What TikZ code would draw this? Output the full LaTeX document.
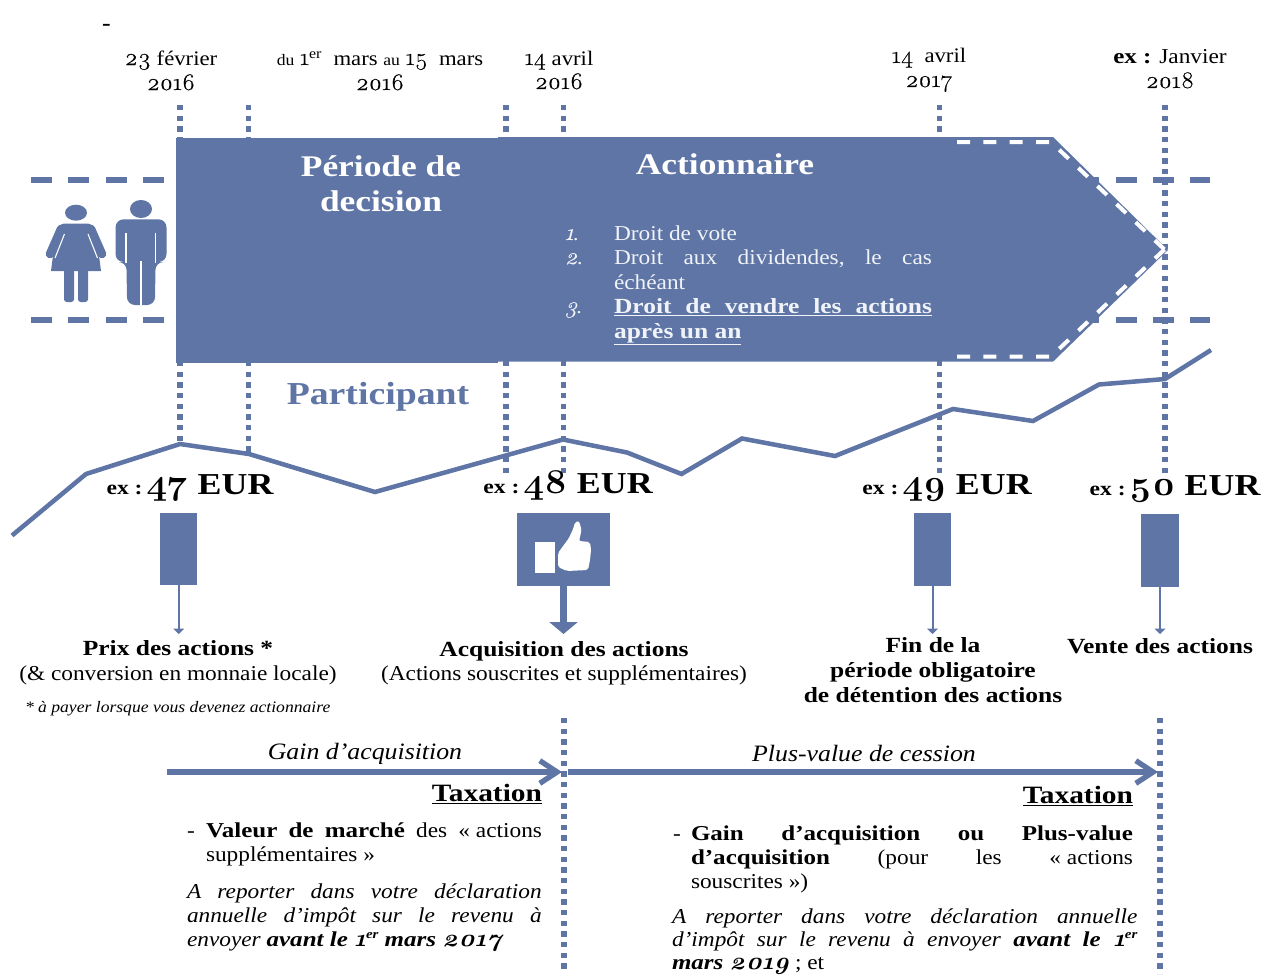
\documentclass[tikz,border=0pt]{standalone}
\usepackage{fontspec}
\usetikzlibrary{arrows.meta}
\setmainfont{Liberation Serif}[FakeStretch=1.1,BoldFeatures={FakeStretch=1.18},BoldItalicFeatures={FakeStretch=1.18}]
\newfontfamily\osf{Latin Modern Roman}[Numbers=OldStyle,FakeStretch=1.05,Scale=1.15,UprightFeatures={FakeBold=0.4},ItalicFeatures={FakeBold=0.3}]
\newcommand{\D}[1]{{\osf #1}}
\newcommand{\fz}[1]{\fontsize{#1}{#1}\selectfont}
\newcommand{\ers}{\raisebox{0.36em}{\fontsize{9.5}{9.5}\selectfont er}}
\definecolor{bluA}{RGB}{95,117,165}
\definecolor{offW}{RGB}{240,243,248}
\tikzset{
  txt/.style={inner sep=0pt,outer sep=0pt,anchor=base,text=black,font=\fz{15.9}},
  dat/.style={txt,font=\fz{15.5}},
  txb/.style={txt,font=\fz{16.2}\bfseries},
  txl/.style={txt,anchor=base west},
  txr/.style={txt,anchor=base east},
  head/.style={txt,text=white,font=\fz{22.5}\bfseries},
  listt/.style={txl,text=offW},
  dotline/.style={draw=bluA,line width=3.9pt,dash pattern=on 4pt off 4pt},
  dashline/.style={draw=bluA,line width=4.5pt,dash pattern=on 15.75pt off 12.3pt},
  whdash/.style={draw=white,line width=3pt,dash pattern=on 9.75pt off 10pt},
  curveline/.style={draw=bluA,line width=3.4pt,line join=miter},
  bbox/.style={fill=bluA,inner sep=0pt,outer sep=0pt,minimum width=28pt,minimum height=54.5pt},
  thinarr/.style={draw=bluA,line width=1.5pt,-{Triangle[width=8pt,length=4pt]}},
  fatarr/.style={draw=bluA,line width=5.2pt,-{Triangle[width=21pt,length=9pt]}},
  longarr/.style={draw=bluA,line width=4pt,-{Straight Barb[length=13pt,width=17pt,line width=4pt]}},
}
\begin{document}
\begin{tikzpicture}[x=0.75pt,y=-0.75pt]
\useasboundingbox (0,0) rectangle (1270,974);
% dashed band behind the arrow
\coordinate (ba) at (31,180); \coordinate (bb) at (1210,180);
\coordinate (bc) at (31,319.5); \coordinate (bd) at (1210,319.5);
\draw[dashline] (ba) -- (bb);
\draw[dashline] (bc) -- (bd);
% dotted time markers
\foreach \n/\x/\b in {a/180/445,b/248.5/453,c/506/474,e/563.5/474,f/939.5/474,g/1165/474}{
  \coordinate (t\n) at (\x,105); \coordinate (u\n) at (\x,\b);
  \draw[dotline] (t\n) -- (u\n);
}
\coordinate (tx1) at (564,718); \coordinate (ux1) at (564,970);
\coordinate (tx2) at (1160,718); \coordinate (ux2) at (1160,974);
\draw[dotline] (tx1) -- (ux1);
\draw[dotline] (tx2) -- (ux2);
% main arrow
\fill[bluA] (176,138.3) -- (498,138.3) -- (498,362.7) -- (176,362.7) -- cycle;
\fill[bluA] (498,137) -- (1053,137) -- (1168,250) -- (1053,361.7) -- (498,361.7) -- cycle;
\draw[whdash] (957,142) -- (1051,142) -- (1165,250);
\draw[whdash] (957,356.5) -- (1051,356.5) -- (1165,249);
% price curve
\draw[curveline] (12,535.5) -- (86,474) -- (180,444) -- (249,454) -- (375,492) -- (563,439.5) -- (627,452.5) -- (681.5,474) -- (742,438.5) -- (835,456) -- (953,409) -- (1033,421) -- (1099,384.5) -- (1165,379) -- (1211,350);
% people
\fill[bluA] (76,212.7) ellipse (11 and 8);
\draw[bluA,line width=6.4pt,line cap=round] (61,229) -- (50,254);
\draw[bluA,line width=6.4pt,line cap=round] (91,229) -- (102,254);
\fill[bluA] [rounded corners=3pt] (55,240) -- (60,223.5) -- (92,223.5) -- (97,240) [sharp corners] -- (101,271) -- (51,271) -- cycle;
\fill[bluA,rounded corners=2pt] (64,268) rectangle (74,302);
\fill[bluA,rounded corners=2pt] (78,268) rectangle (88,302);
\draw[white,line width=0.8pt] (64.5,234) -- (55,258);
\draw[white,line width=0.8pt] (88,234) -- (97.5,258);
\fill[bluA] (141,209) ellipse (11 and 9);
\fill[bluA,rounded corners=6pt] (115.5,262) -- (115.5,219.3) -- (166.5,219.3) -- (166.5,262) -- (155.5,262) -- (155,305) -- (127,305) -- (126.5,262) -- cycle;
\draw[white,line width=0.8pt] (141,261) -- (141,306);
\draw[white,line width=0.8pt] (126,233) -- (126,263);
\draw[white,line width=0.8pt] (155.5,233) -- (155.5,263);
% top small dash
\node[txt,font=\fz{16.5}\bfseries] (tick) at (106.5,31) {-};
% dates
\node[dat] (d1a) at (171,65) {\D{23} février};
\node[dat] (d1b) at (171,90) {\D{2016}};
\node[dat] (d2a) at (380,65) {{\fz{12}du} \D{1}\textsuperscript{er} \ mars {\fz{12}au} \D{15} \ mars};
\node[dat] (d2b) at (380,90) {\D{2016}};
\node[dat] (d3a) at (559,65) {\D{14} avril};
\node[dat] (d3b) at (559,89) {\D{2016}};
\node[dat] (d4a) at (929,63) {\D{14} \ avril};
\node[dat] (d4b) at (929,87) {\D{2017}};
\node[txt] (d5a) at (1170,64) {\textbf{ex :} Janvier};
\node[dat] (d5b) at (1170,88) {\D{2018}};
% headings in arrow
\node[head] (h1) at (381,176) {Période de};
\node[head] (h2) at (381,211) {decision};
\node[head] (h3) at (725,174) {Actionnaire};
\node[txt,text=bluA,font=\fz{24}\bfseries] (part) at (378,404) {Participant};
% list
\node[listt,font=\fz{15}\itshape] (n1) at (565,240) {\D{1}.};
\node[listt,font=\fz{15}\itshape] (n2) at (565,264) {\D{2}.};
\node[listt,font=\fz{15}\itshape] (n3) at (565,313) {\D{3}.};
\node[listt] (l1) at (614,240) {Droit de vote};
\node[listt] (l2) at (614,264) {\hbox to 238.5pt{Droit\hfil aux\hfil dividendes,\hfil le\hfil cas}};
\node[listt] (l3) at (614,289) {échéant};
\node[listt,font=\fz{16.2}\bfseries] (l4) at (614,313) {\underline{\hbox to 238.5pt{Droit\hfil de\hfil vendre\hfil les\hfil actions}}};
\node[listt,font=\fz{16.2}\bfseries] (l5) at (614,338) {\underline{après un an}};
% prices
\newcommand{\pr}[1]{{\fz{15}\bfseries ex :}\hspace{3pt}{\fz{22.8}\bfseries\D{#1} EUR}}
\node[txt] (p1) at (190,494) {\pr{47}};
\node[txt] (p2) at (568,493) {\pr{48}};
\node[txt] (p3) at (947,494) {\pr{49}};
\node[txt] (p4) at (1175,495) {\pr{50}};
% boxes and arrows
\node[bbox] (b1) at (178.75,549) {};
\node[bbox,minimum width=70pt] (b2) at (563.5,549.5) {};
\node[bbox] (b3) at (932.5,549.5) {};
\node[bbox] (b4) at (1160,550.5) {};
\coordinate (e1) at (178.75,634); \coordinate (e2) at (563.5,634);
\coordinate (e3) at (932.5,634); \coordinate (e4) at (1160,634);
\draw[thinarr] (b1.south) -- (e1);
\draw[fatarr] (b2.south) -- (e2);
\draw[thinarr] (b3.south) -- (e3);
\draw[thinarr] (b4.south) -- (e4);
% thumb
\fill[white] (535,542) rectangle (555,573);
\fill[white,rounded corners=1.5pt] (558,567) -- (558,553) -- (569,538) -- (573.5,528) -- (575,522) -- (579,521) -- (581.6,530) -- (579,541) -- (590,542) -- (591,550) -- (590,560) -- (588,570) -- (567,571) -- cycle;
% labels under boxes
\node[txb] (t1) at (178,655) {Prix des actions *};
\node[txt] (t2) at (178,680) {(\& conversion en monnaie locale)};
\node[txl,font=\fz{12}\itshape] (t3) at (25,712) {* à payer lorsque vous devenez actionnaire};
\node[txb] (t4) at (564,656) {Acquisition des actions};
\node[txt] (t5) at (564,680) {(Actions souscrites et supplémentaires)};
\node[txb] (t6) at (933,652) {Fin de la};
\node[txb] (t7) at (933,677) {période obligatoire};
\node[txb] (t8) at (933,702) {de détention des actions};
\node[txb] (t9) at (1160,653) {Vente des actions};
% long arrows
\coordinate (la) at (167,772); \coordinate (lb) at (562,772);
\coordinate (lc) at (568,772); \coordinate (ld) at (1158,772);
\draw[longarr] (la) -- (lb);
\draw[longarr] (lc) -- (ld);
\node[txt,font=\fz{17.6}\itshape] (g1) at (365,759) {Gain d’acquisition};
\node[txt,font=\fz{17.6}\itshape] (g2) at (864,761) {Plus-value de cession};
\node[txr,font=\fz{18.7}\bfseries] (x1) at (542,801) {\underline{Taxation}};
\node[txr,font=\fz{18.7}\bfseries] (x2) at (1133,803) {\underline{Taxation}};
% left column
\node[txl] (q0) at (187,837) {-};
\node[txl] (q1) at (206,837) {\hbox to 252pt{\textbf{Valeur}\hfil\textbf{de}\hfil\textbf{marché}\hfil des\hfil «\ actions}};
\node[txl] (q2) at (206,861) {supplémentaires\ »};
\node[txl,font=\fz{15.9}\itshape] (q3) at (187,898) {\hbox to 266pt{A\hfil reporter\hfil dans\hfil votre\hfil déclaration}};
\node[txl,font=\fz{15.9}\itshape] (q4) at (187,922) {\hbox to 266pt{annuelle\hfil d’impôt\hfil sur\hfil le\hfil revenu\hfil à}};
\node[txl,font=\fz{15.9}\itshape] (q5) at (187,946) {envoyer \textbf{avant le \D{1}\ers\ mars \D{2017}}};
% right column
\node[txl] (r0) at (673,840) {-};
\node[txl] (r1) at (691,840) {\hbox to 331.5pt{\textbf{Gain}\hfil\textbf{d’acquisition}\hfil\textbf{ou}\hfil\textbf{Plus-value}}};
\node[txl] (r2) at (691,864) {\hbox to 331.5pt{\textbf{d’acquisition}\hfil(pour\hfil les\hfil «\ actions}};
\node[txl] (r3) at (691,888) {souscrites\ »)};
\node[txl,font=\fz{15.9}\itshape] (r4) at (672,923) {\hbox to 349pt{A\hfil reporter\hfil dans\hfil votre\hfil déclaration\hfil annuelle}};
\node[txl,font=\fz{15.9}\itshape] (r5) at (672,946) {\hbox to 349pt{d’impôt\hfil sur\hfil le\hfil revenu\hfil à\hfil envoyer\hfil \textbf{avant}\hfil \textbf{le}\hfil \textbf{\D{1}\ers}}};
\node[txl,font=\fz{15.9}\itshape] (r6) at (672,969.5) {\textbf{mars \D{2019}}\upshape\mdseries\ ; et};
\end{tikzpicture}
\end{document}
